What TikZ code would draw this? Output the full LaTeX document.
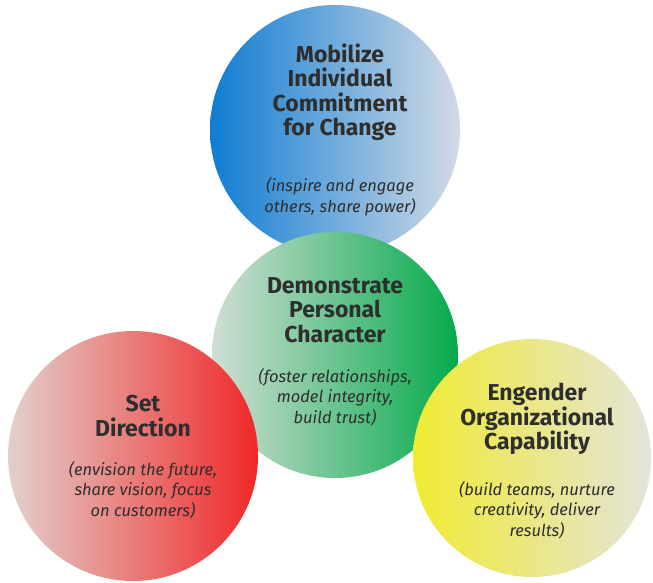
\documentclass[tikz,border=0pt]{standalone}
\usepackage{fontspec}
\setmainfont{Fira Sans}
\begin{document}
\begin{tikzpicture}[x=1pt,y=-1pt,
  disc/.style={circle, inner sep=0pt, minimum size=#1, draw=none},
  ttl/.style={align=center, font=\fontsize{23}{24.5}\selectfont\bfseries, text=black!82},
  sub/.style={align=center, font=\fontsize{16.5}{20.5}\selectfont\itshape, text=black!82}]
\definecolor{bluedeep}{RGB}{15,125,210}
\definecolor{bluelight}{RGB}{210,218,230}
\definecolor{greendeep}{RGB}{5,170,75}
\definecolor{greenlight}{RGB}{208,222,212}
\definecolor{reddeep}{RGB}{240,40,40}
\definecolor{redlight}{RGB}{226,208,204}
\definecolor{yellowdeep}{RGB}{240,235,50}
\definecolor{yellowlight}{RGB}{228,228,218}
\fill[white] (0,0) rectangle (653,582);
\useasboundingbox (0,0) rectangle (653,582);
\node[disc=250, left color=bluedeep, right color=bluelight] (blue) at (335,130) {};
\node[disc=246, left color=greenlight, right color=greendeep] (green) at (335,355) {};
\node[disc=250, left color=redlight, right color=reddeep] (red) at (133,456) {};
\node[disc=238, left color=yellowdeep, right color=yellowlight] (yellow) at (532,458) {};
\node[ttl] (bt) at (340,92) {Mobilize\\Individual\\Commitment\\for Change};
\node[sub] (bs) at (340,197) {(inspire and engage\\others, share power)};
\node[ttl] (gt) at (335,310) {Demonstrate\\Personal\\Character};
\node[sub] (gs) at (335,397) {(foster relationships,\\model integrity,\\build trust)};
\node[ttl] (rt) at (143,416) {Set\\Direction};
\node[sub] (rs) at (143,490) {(envision the future,\\share vision, focus\\on customers)};
\node[ttl] (yt) at (537,419) {Engender\\Organizational\\Capability};
\node[sub] (ys) at (537,510) {(build teams, nurture\\creativity, deliver\\results)};
\end{tikzpicture}
\end{document}
